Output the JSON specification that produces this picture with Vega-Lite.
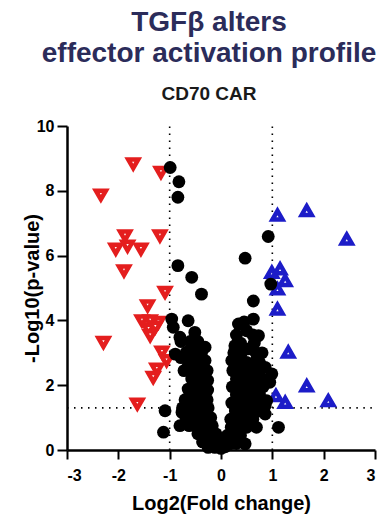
{
  "$schema": "https://vega.github.io/schema/vega-lite/v6.json",
  "width": 308,
  "height": 324,
  "autosize": {"type": "none"},
  "padding": {"left": 67, "top": 126, "right": 9, "bottom": 65},
  "background": "white",
  "config": {"view": {"stroke": null}, "font": "Liberation Sans"},
  "title": {
    "text": ["TGFβ alters", "effector activation profile"],
    "subtitle": "CD70 CAR",
    "font": "Liberation Sans",
    "fontSize": 28,
    "fontWeight": "bold",
    "color": "#2b2c5a",
    "lineHeight": 31,
    "subtitleFont": "Liberation Sans",
    "subtitleFontSize": 19,
    "subtitleFontWeight": "bold",
    "subtitleColor": "#1a1a1a",
    "subtitlePadding": 17,
    "anchor": "middle",
    "dx": -12,
    "offset": 14
  },
  "datasets": {
    "vlines": [
      {"x": -1, "y": 0, "y2": 10},
      {"x": 1, "y": 0, "y2": 10}
    ],
    "hlines": [
      {"x": -3, "x2": -1, "y": 1.301},
      {"x": 1, "x2": 3, "y": 1.301}
    ],
    "pts": [
      {"lfc": -1.71, "p": 8.83, "g": "down"},
      {"lfc": -1.17, "p": 8.57, "g": "down"},
      {"lfc": -2.34, "p": 7.87, "g": "down"},
      {"lfc": -1.87, "p": 6.61, "g": "down"},
      {"lfc": -1.19, "p": 6.61, "g": "down"},
      {"lfc": -2.05, "p": 6.2, "g": "down"},
      {"lfc": -1.82, "p": 6.29, "g": "down"},
      {"lfc": -1.56, "p": 6.2, "g": "down"},
      {"lfc": -1.89, "p": 5.53, "g": "down"},
      {"lfc": -1.09, "p": 4.87, "g": "down"},
      {"lfc": -1.43, "p": 4.45, "g": "down"},
      {"lfc": -1.54, "p": 3.99, "g": "down"},
      {"lfc": -1.38, "p": 3.99, "g": "down"},
      {"lfc": -1.22, "p": 3.94, "g": "down"},
      {"lfc": -1.41, "p": 3.73, "g": "down"},
      {"lfc": -1.38, "p": 3.53, "g": "down"},
      {"lfc": -1.28, "p": 3.79, "g": "down"},
      {"lfc": -2.29, "p": 3.32, "g": "down"},
      {"lfc": -1.15, "p": 3.02, "g": "down"},
      {"lfc": -1.06, "p": 2.76, "g": "down"},
      {"lfc": -1.25, "p": 2.5, "g": "down"},
      {"lfc": -1.32, "p": 2.24, "g": "down"},
      {"lfc": -1.63, "p": 1.42, "g": "down"},
      {"lfc": 1.1, "p": 7.25, "g": "up"},
      {"lfc": 1.67, "p": 7.39, "g": "up"},
      {"lfc": 2.45, "p": 6.51, "g": "up"},
      {"lfc": 0.99, "p": 5.48, "g": "up"},
      {"lfc": 1.15, "p": 5.59, "g": "up"},
      {"lfc": 1.25, "p": 5.23, "g": "up"},
      {"lfc": 1.1, "p": 4.97, "g": "up"},
      {"lfc": 1.1, "p": 4.35, "g": "up"},
      {"lfc": 1.31, "p": 3.02, "g": "up"},
      {"lfc": 1.67, "p": 1.98, "g": "up"},
      {"lfc": 1.07, "p": 1.68, "g": "up"},
      {"lfc": 1.25, "p": 1.47, "g": "up"},
      {"lfc": 2.09, "p": 1.52, "g": "up"},
      {"lfc": -0.99, "p": 8.72, "g": "ns"},
      {"lfc": -0.82, "p": 8.28, "g": "ns"},
      {"lfc": -0.84, "p": 7.8, "g": "ns"},
      {"lfc": 0.92, "p": 6.59, "g": "ns"},
      {"lfc": 0.47, "p": 5.92, "g": "ns"},
      {"lfc": -0.84, "p": 5.69, "g": "ns"},
      {"lfc": -0.57, "p": 5.33, "g": "ns"},
      {"lfc": -0.38, "p": 4.81, "g": "ns"},
      {"lfc": 0.97, "p": 5.12, "g": "ns"},
      {"lfc": 0.63, "p": 4.6, "g": "ns"},
      {"lfc": -0.96, "p": 4.04, "g": "ns"},
      {"lfc": -0.93, "p": 3.79, "g": "ns"},
      {"lfc": -0.64, "p": 3.99, "g": "ns"},
      {"lfc": -0.51, "p": 3.63, "g": "ns"},
      {"lfc": -0.8, "p": 3.48, "g": "ns"},
      {"lfc": 0.34, "p": 3.89, "g": "ns"},
      {"lfc": 0.63, "p": 4.04, "g": "ns"},
      {"lfc": 0.5, "p": 3.68, "g": "ns"},
      {"lfc": 0.73, "p": 3.53, "g": "ns"},
      {"lfc": -0.31, "p": 3.17, "g": "ns"},
      {"lfc": -0.89, "p": 2.96, "g": "ns"},
      {"lfc": -0.67, "p": 3.02, "g": "ns"},
      {"lfc": 0.27, "p": 3.22, "g": "ns"},
      {"lfc": 0.53, "p": 3.12, "g": "ns"},
      {"lfc": 0.21, "p": 2.76, "g": "ns"},
      {"lfc": 0.86, "p": 2.55, "g": "ns"},
      {"lfc": -0.44, "p": 2.65, "g": "ns"},
      {"lfc": -0.64, "p": 2.6, "g": "ns"},
      {"lfc": -0.31, "p": 2.76, "g": "ns"},
      {"lfc": -1.09, "p": 1.21, "g": "ns"},
      {"lfc": -1.12, "p": 0.55, "g": "ns"},
      {"lfc": -0.76, "p": 1.16, "g": "ns"},
      {"lfc": -0.8, "p": 0.75, "g": "ns"},
      {"lfc": -0.64, "p": 1.88, "g": "ns"},
      {"lfc": -0.57, "p": 2.19, "g": "ns"},
      {"lfc": 0.89, "p": 1.52, "g": "ns"},
      {"lfc": 0.99, "p": 2.35, "g": "ns"},
      {"lfc": 0.95, "p": 2.09, "g": "ns"},
      {"lfc": 1.12, "p": 0.7, "g": "ns"},
      {"lfc": 0.69, "p": 0.7, "g": "ns"},
      {"lfc": 0.47, "p": 0.19, "g": "ns"},
      {"lfc": 0.6, "p": 1.27, "g": "ns"},
      {"lfc": 0.86, "p": 1.11, "g": "ns"},
      {"lfc": 0.86, "p": 1.37, "g": "ns"},
      {"lfc": -0.78, "p": 3.35, "g": "ns"},
      {"lfc": -0.6, "p": 3.35, "g": "ns"},
      {"lfc": -0.45, "p": 3.35, "g": "ns"},
      {"lfc": -0.5, "p": 3.1, "g": "ns"},
      {"lfc": -0.38, "p": 3.0, "g": "ns"},
      {"lfc": -0.78, "p": 2.85, "g": "ns"},
      {"lfc": -0.55, "p": 2.85, "g": "ns"},
      {"lfc": -0.42, "p": 2.85, "g": "ns"},
      {"lfc": -0.72, "p": 2.45, "g": "ns"},
      {"lfc": -0.52, "p": 2.45, "g": "ns"},
      {"lfc": -0.38, "p": 2.45, "g": "ns"},
      {"lfc": -0.27, "p": 2.45, "g": "ns"},
      {"lfc": -0.45, "p": 2.15, "g": "ns"},
      {"lfc": -0.33, "p": 2.15, "g": "ns"},
      {"lfc": -0.26, "p": 2.15, "g": "ns"},
      {"lfc": -0.5, "p": 1.85, "g": "ns"},
      {"lfc": -0.38, "p": 1.85, "g": "ns"},
      {"lfc": -0.26, "p": 1.85, "g": "ns"},
      {"lfc": -0.7, "p": 1.55, "g": "ns"},
      {"lfc": -0.55, "p": 1.55, "g": "ns"},
      {"lfc": -0.42, "p": 1.55, "g": "ns"},
      {"lfc": -0.27, "p": 1.55, "g": "ns"},
      {"lfc": -0.75, "p": 1.3, "g": "ns"},
      {"lfc": -0.62, "p": 1.3, "g": "ns"},
      {"lfc": -0.48, "p": 1.3, "g": "ns"},
      {"lfc": -0.36, "p": 1.3, "g": "ns"},
      {"lfc": -0.25, "p": 1.3, "g": "ns"},
      {"lfc": -0.68, "p": 1.0, "g": "ns"},
      {"lfc": -0.55, "p": 1.0, "g": "ns"},
      {"lfc": -0.42, "p": 1.0, "g": "ns"},
      {"lfc": -0.3, "p": 1.0, "g": "ns"},
      {"lfc": -0.2, "p": 1.0, "g": "ns"},
      {"lfc": -0.62, "p": 0.75, "g": "ns"},
      {"lfc": -0.5, "p": 0.75, "g": "ns"},
      {"lfc": -0.38, "p": 0.75, "g": "ns"},
      {"lfc": -0.27, "p": 0.75, "g": "ns"},
      {"lfc": -0.17, "p": 0.75, "g": "ns"},
      {"lfc": -0.45, "p": 0.5, "g": "ns"},
      {"lfc": -0.3, "p": 0.5, "g": "ns"},
      {"lfc": -0.2, "p": 0.5, "g": "ns"},
      {"lfc": -0.1, "p": 0.5, "g": "ns"},
      {"lfc": -0.36, "p": 0.25, "g": "ns"},
      {"lfc": -0.25, "p": 0.25, "g": "ns"},
      {"lfc": -0.15, "p": 0.25, "g": "ns"},
      {"lfc": -0.06, "p": 0.25, "g": "ns"},
      {"lfc": 0.0, "p": 0.2, "g": "ns"},
      {"lfc": -0.25, "p": 0.08, "g": "ns"},
      {"lfc": -0.12, "p": 0.08, "g": "ns"},
      {"lfc": 0.0, "p": 0.05, "g": "ns"},
      {"lfc": 0.08, "p": 0.1, "g": "ns"},
      {"lfc": 0.45, "p": 3.95, "g": "ns"},
      {"lfc": 0.3, "p": 3.55, "g": "ns"},
      {"lfc": 0.62, "p": 3.55, "g": "ns"},
      {"lfc": 0.38, "p": 3.3, "g": "ns"},
      {"lfc": 0.65, "p": 3.3, "g": "ns"},
      {"lfc": 0.25, "p": 3.0, "g": "ns"},
      {"lfc": 0.4, "p": 3.0, "g": "ns"},
      {"lfc": 0.68, "p": 3.0, "g": "ns"},
      {"lfc": 0.8, "p": 3.0, "g": "ns"},
      {"lfc": 0.35, "p": 2.7, "g": "ns"},
      {"lfc": 0.5, "p": 2.7, "g": "ns"},
      {"lfc": 0.65, "p": 2.7, "g": "ns"},
      {"lfc": 0.75, "p": 2.7, "g": "ns"},
      {"lfc": 0.23, "p": 2.45, "g": "ns"},
      {"lfc": 0.38, "p": 2.45, "g": "ns"},
      {"lfc": 0.55, "p": 2.45, "g": "ns"},
      {"lfc": 0.7, "p": 2.45, "g": "ns"},
      {"lfc": 0.3, "p": 2.2, "g": "ns"},
      {"lfc": 0.45, "p": 2.2, "g": "ns"},
      {"lfc": 0.6, "p": 2.2, "g": "ns"},
      {"lfc": 0.8, "p": 2.2, "g": "ns"},
      {"lfc": 0.22, "p": 1.95, "g": "ns"},
      {"lfc": 0.38, "p": 1.95, "g": "ns"},
      {"lfc": 0.52, "p": 1.95, "g": "ns"},
      {"lfc": 0.68, "p": 1.95, "g": "ns"},
      {"lfc": 0.82, "p": 1.95, "g": "ns"},
      {"lfc": 0.3, "p": 1.7, "g": "ns"},
      {"lfc": 0.45, "p": 1.7, "g": "ns"},
      {"lfc": 0.6, "p": 1.7, "g": "ns"},
      {"lfc": 0.75, "p": 1.7, "g": "ns"},
      {"lfc": 0.21, "p": 1.45, "g": "ns"},
      {"lfc": 0.35, "p": 1.45, "g": "ns"},
      {"lfc": 0.5, "p": 1.45, "g": "ns"},
      {"lfc": 0.68, "p": 1.45, "g": "ns"},
      {"lfc": 0.28, "p": 1.2, "g": "ns"},
      {"lfc": 0.42, "p": 1.2, "g": "ns"},
      {"lfc": 0.55, "p": 1.2, "g": "ns"},
      {"lfc": 0.72, "p": 1.2, "g": "ns"},
      {"lfc": 0.19, "p": 0.95, "g": "ns"},
      {"lfc": 0.32, "p": 0.95, "g": "ns"},
      {"lfc": 0.48, "p": 0.95, "g": "ns"},
      {"lfc": 0.62, "p": 0.95, "g": "ns"},
      {"lfc": 0.2, "p": 0.7, "g": "ns"},
      {"lfc": 0.33, "p": 0.7, "g": "ns"},
      {"lfc": 0.5, "p": 0.7, "g": "ns"},
      {"lfc": 0.12, "p": 0.45, "g": "ns"},
      {"lfc": 0.25, "p": 0.45, "g": "ns"},
      {"lfc": 0.38, "p": 0.45, "g": "ns"},
      {"lfc": 0.08, "p": 0.2, "g": "ns"},
      {"lfc": 0.2, "p": 0.2, "g": "ns"},
      {"lfc": 0.3, "p": 0.2, "g": "ns"}
    ]
  },
  "layer": [
    {
      "data": {"name": "vlines"},
      "mark": {"type": "rule", "color": "black", "strokeWidth": 1.6, "strokeDash": [1.5, 5.5]},
      "encoding": {
        "x": {"field": "x", "type": "quantitative", "scale": {"domain": [-3, 3], "nice": false, "zero": false},
          "axis": {
            "values": [-3, -2, -1, 0, 1, 2, 3],
            "labelExpr": "'' + datum.value",
            "title": "Log2(Fold change)",
            "grid": false,
            "domainColor": "black", "domainWidth": 2.5,
            "tickColor": "black", "tickWidth": 2, "tickSize": 9,
            "labelFont": "Liberation Sans", "labelFontSize": 16, "labelFontWeight": "bold", "labelColor": "black", "labelPadding": 8,
            "titleFont": "Liberation Sans", "titleFontSize": 20, "titleFontWeight": "bold", "titleColor": "black", "titlePadding": 10
          }},
        "y": {"field": "y", "type": "quantitative", "scale": {"domain": [0, 10], "nice": false},
          "axis": {
            "values": [0, 2, 4, 6, 8, 10],
            "title": "-Log10(p-value)",
            "grid": false,
            "domainColor": "black", "domainWidth": 2.5,
            "tickColor": "black", "tickWidth": 2, "tickSize": 10,
            "labelFont": "Liberation Sans", "labelFontSize": 16, "labelFontWeight": "bold", "labelColor": "black", "labelPadding": 3,
            "titleFont": "Liberation Sans", "titleFontSize": 20, "titleFontWeight": "bold", "titleColor": "black",
            "titleX": -35, "titleY": 162, "titleAngle": -90, "titleAlign": "center", "titleBaseline": "middle"
          }},
        "y2": {"field": "y2"}
      }
    },
    {
      "data": {"name": "hlines"},
      "mark": {"type": "rule", "color": "black", "strokeWidth": 1.6, "strokeDash": [1.5, 5.5]},
      "encoding": {
        "x": {"field": "x", "type": "quantitative"},
        "x2": {"field": "x2"},
        "y": {"field": "y", "type": "quantitative"}
      }
    },
    {
      "data": {"name": "pts"},
      "transform": [{"filter": "datum.g === 'down'"}],
      "mark": {"type": "point", "shape": "triangle-down", "filled": false, "fill": "white", "fillOpacity": 1, "stroke": "#e41e1e", "strokeWidth": 4.5, "strokeOpacity": 1, "size": 100, "opacity": 1},
      "encoding": {
        "x": {"field": "lfc", "type": "quantitative"},
        "y": {"field": "p", "type": "quantitative"}
      }
    },
    {
      "data": {"name": "pts"},
      "transform": [{"filter": "datum.g === 'up'"}],
      "mark": {"type": "point", "shape": "triangle-up", "filled": false, "fill": "white", "fillOpacity": 1, "stroke": "#1c1cc8", "strokeWidth": 4.5, "strokeOpacity": 1, "size": 100, "opacity": 1},
      "encoding": {
        "x": {"field": "lfc", "type": "quantitative"},
        "y": {"field": "p", "type": "quantitative"}
      }
    },
    {
      "data": {"name": "pts"},
      "transform": [{"filter": "datum.g === 'ns'"}],
      "mark": {"type": "circle", "color": "black", "opacity": 1, "size": 165},
      "encoding": {
        "x": {"field": "lfc", "type": "quantitative"},
        "y": {"field": "p", "type": "quantitative"}
      }
    }
  ]
}
